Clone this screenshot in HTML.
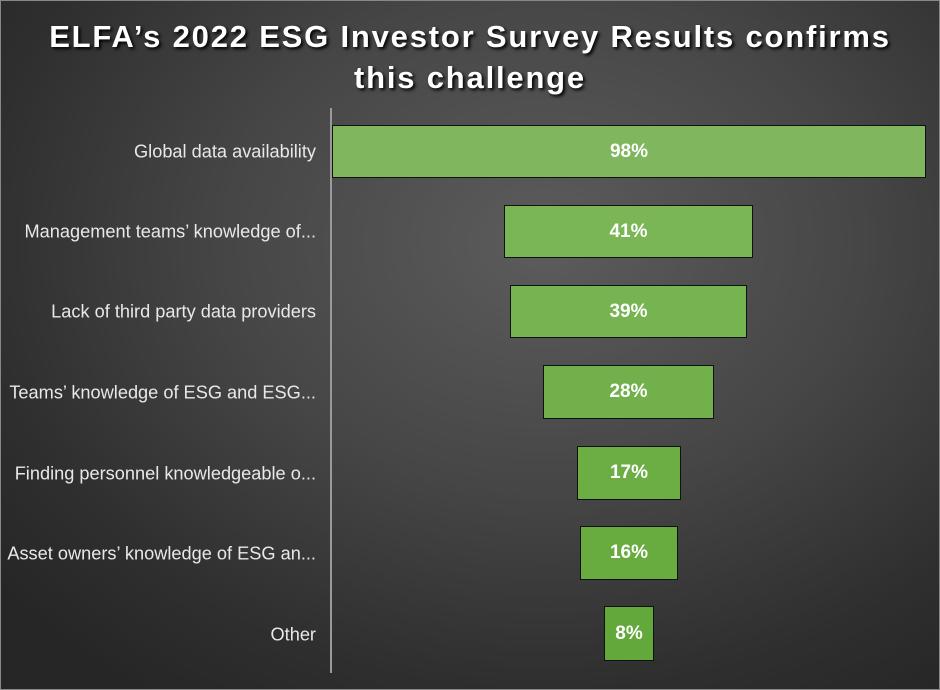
<!DOCTYPE html>
<html><head><meta charset="utf-8"><style>
html,body{margin:0;padding:0;}
body{width:940px;height:690px;overflow:hidden;position:relative;font-family:"Liberation Sans",sans-serif;
background:radial-gradient(ellipse 75% 80% at 58% 35%,#5c5c5c 0%,#464646 45%,#2f2f2f 80%,#262626 100%);}
.frame{position:absolute;left:0;top:0;width:938px;height:688px;border:1px solid #888;}
.title{position:absolute;left:0;width:940px;text-align:center;color:#fff;font-weight:bold;font-size:31px;letter-spacing:1.8px;text-shadow:2px 2px 3px #000;}
.axis{position:absolute;left:330px;top:108px;width:2px;height:565px;background:#9a9a9a;}
.lab{position:absolute;right:624px;color:#e8e8e8;font-size:18.2px;white-space:nowrap;transform:translateY(-50%);}
.bar{position:absolute;box-sizing:border-box;border:1.5px solid #111;color:#fff;font-weight:bold;font-size:19px;display:flex;align-items:center;justify-content:center;}
</style></head><body>
<div class="frame"></div>
<div class="title" style="top:19px">ELFA’s 2022 ESG Investor Survey Results confirms</div>
<div class="title" style="top:60px">this challenge</div>
<div class="axis"></div>
<div class="lab" style="top:152px">Global data availability</div>
<div class="lab" style="top:232px">Management teams’ knowledge of...</div>
<div class="lab" style="top:312px">Lack of third party data providers</div>
<div class="lab" style="top:393px">Teams’ knowledge of ESG and ESG...</div>
<div class="lab" style="top:474px">Finding personnel knowledgeable o...</div>
<div class="lab" style="top:554px">Asset owners’ knowledge of ESG an...</div>
<div class="lab" style="top:635px">Other</div>
<div class="bar" style="left:332px;top:125px;width:594px;height:53px;background:#80b65e">98%</div>
<div class="bar" style="left:504px;top:205px;width:249px;height:53px;background:#7ab556">41%</div>
<div class="bar" style="left:510px;top:285px;width:237px;height:53px;background:#76b351">39%</div>
<div class="bar" style="left:543px;top:365px;width:171px;height:54px;background:#71b04b">28%</div>
<div class="bar" style="left:577px;top:446px;width:104px;height:54px;background:#6cae44">17%</div>
<div class="bar" style="left:580px;top:526px;width:98px;height:54px;background:#68ab3f">16%</div>
<div class="bar" style="left:604px;top:606px;width:50px;height:55px;background:#63a83a">8%</div>
</body></html>
